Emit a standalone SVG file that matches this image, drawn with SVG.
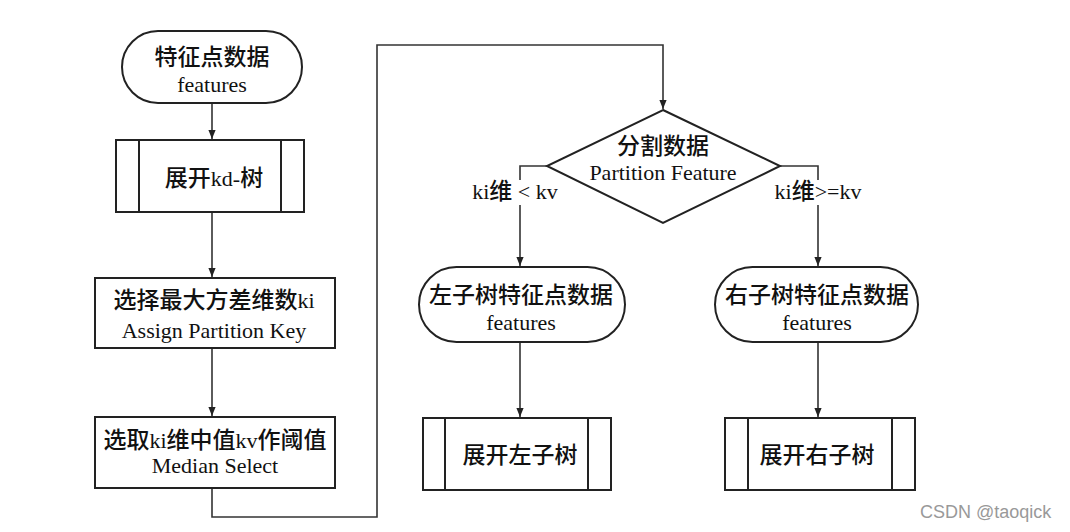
<svg xmlns="http://www.w3.org/2000/svg" width="1070" height="532" viewBox="0 0 1070 532">
<style>
.s{fill:#fff;stroke:#222;stroke-width:2}
.l{fill:none;stroke:#333;stroke-width:1.6}
.t{font-family:"Liberation Serif","Noto Sans CJK SC",serif;font-size:22px;fill:#111;text-anchor:middle}
.c{font-weight:500;font-size:23px}
.w{font-family:"Liberation Sans",Arial,sans-serif;font-size:18px;fill:#999}
</style>
<defs>
<marker id="a" viewBox="0 0 10 10" refX="10" refY="5" markerWidth="9" markerHeight="9" markerUnits="userSpaceOnUse" orient="auto">
<path d="M0,1 L10,5 L0,9 Z" fill="#222"/>
</marker>
</defs>
<rect width="1070" height="532" fill="#fff"/>
<g id="connectors">
<line class="l" x1="212" y1="103" x2="212" y2="139" marker-end="url(#a)"/>
<line class="l" x1="212" y1="212" x2="212" y2="277" marker-end="url(#a)"/>
<line class="l" x1="212" y1="348" x2="212" y2="416" marker-end="url(#a)"/>
<polyline class="l" points="212,488 212,517 377,517 377,45 663,45 663,109" marker-end="url(#a)"/>
<polyline class="l" points="547,166 520,166 520,180"/>
<line class="l" x1="520" y1="205" x2="520" y2="266" marker-end="url(#a)"/>
<polyline class="l" points="780,166 818,166 818,180"/>
<line class="l" x1="818" y1="205" x2="818" y2="266" marker-end="url(#a)"/>
<line class="l" x1="520" y1="342" x2="520" y2="417" marker-end="url(#a)"/>
<line class="l" x1="818" y1="342" x2="818" y2="417" marker-end="url(#a)"/>
<text class="t" x="515" y="199">ki<tspan class="c">维</tspan> &lt; kv</text>
<text class="t" x="818" y="199">ki<tspan class="c">维</tspan>&gt;=kv</text>
</g>
<g id="n1">
<rect class="s" x="122" y="31" width="180" height="72" rx="36"/>
<text class="t c" x="212" y="65">特征点数据</text>
<text class="t" x="212" y="92">features</text>
</g>
<g id="n2">
<rect class="s" x="116" y="140" width="188" height="72"/>
<line class="s" x1="139" y1="140" x2="139" y2="212"/>
<line class="s" x1="281" y1="140" x2="281" y2="212"/>
<text class="t" x="214" y="186"><tspan class="c">展开</tspan>kd-<tspan class="c">树</tspan></text>
</g>
<g id="n3">
<rect class="s" x="95" y="278" width="240" height="70"/>
<text class="t" x="214" y="308"><tspan class="c">选择最大方差维数</tspan>ki</text>
<text class="t" x="214" y="338">Assign Partition Key</text>
</g>
<g id="n4">
<rect class="s" x="95" y="417" width="240" height="71"/>
<text class="t" x="215" y="448"><tspan class="c">选取</tspan>ki<tspan class="c">维中值</tspan>kv<tspan class="c">作阈值</tspan></text>
<text class="t" x="215" y="473">Median Select</text>
</g>
<g id="n5">
<polygon class="s" points="663,110 780,166 663,223 547,166"/>
<text class="t c" x="663" y="154">分割数据</text>
<text class="t" x="663" y="180">Partition Feature</text>
</g>
<g id="n6">
<rect class="s" x="419" y="267" width="206" height="75" rx="37.5"/>
<text class="t c" x="521" y="303">左子树特征点数据</text>
<text class="t" x="521" y="330">features</text>
</g>
<g id="n7">
<rect class="s" x="715" y="267" width="203" height="75" rx="37.5"/>
<text class="t c" x="817" y="303">右子树特征点数据</text>
<text class="t" x="817" y="330">features</text>
</g>
<g id="n8">
<rect class="s" x="423" y="418" width="188" height="72"/>
<line class="s" x1="445" y1="418" x2="445" y2="490"/>
<line class="s" x1="588" y1="418" x2="588" y2="490"/>
<text class="t c" x="520" y="463">展开左子树</text>
</g>
<g id="n9">
<rect class="s" x="725" y="418" width="190" height="72"/>
<line class="s" x1="748" y1="418" x2="748" y2="490"/>
<line class="s" x1="892" y1="418" x2="892" y2="490"/>
<text class="t c" x="817" y="463">展开右子树</text>
</g>
<text class="w" x="920" y="518">CSDN @taoqick</text>
</svg>
